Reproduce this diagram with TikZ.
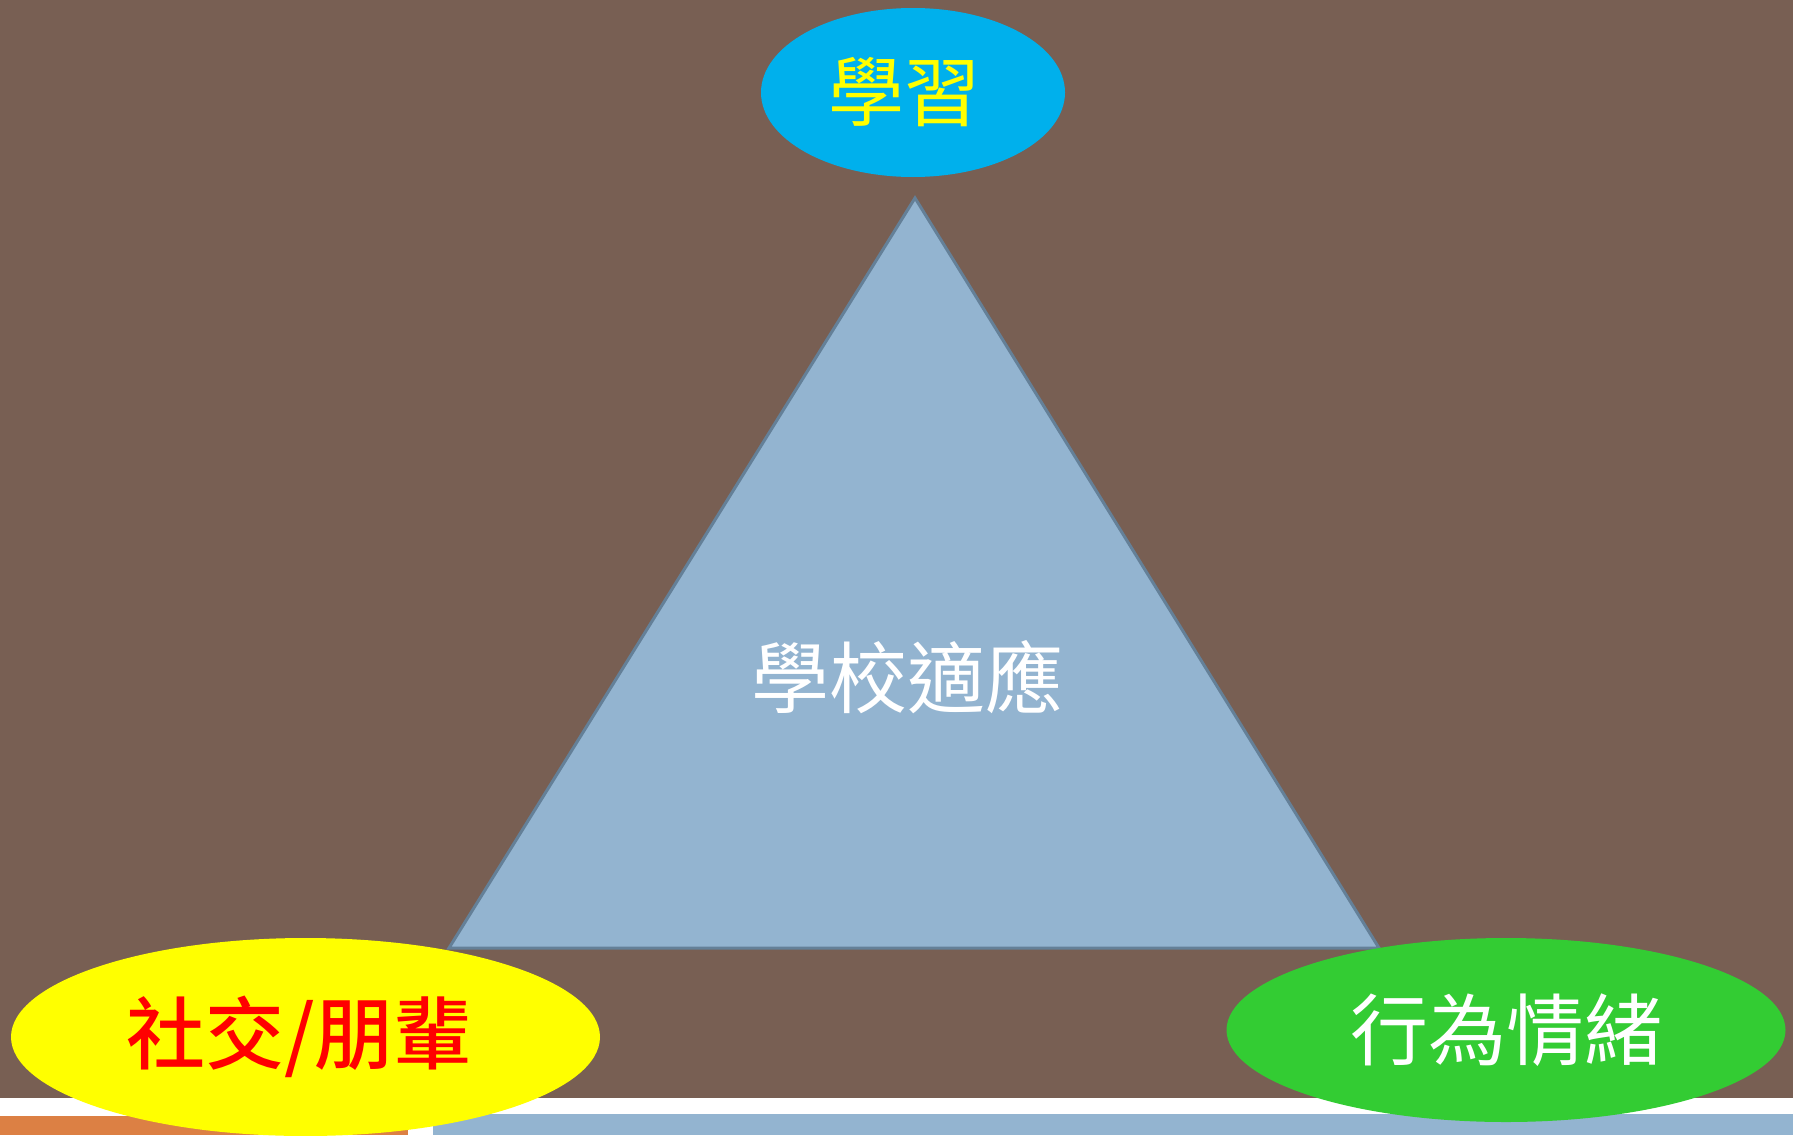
\documentclass[tikz,border=0pt]{standalone}
\usepackage{fontspec}
\newfontfamily\cjk{Noto Sans CJK TC}
\newfontfamily\cjkbold{Noto Sans CJK TC Medium}
\usetikzlibrary{shapes.geometric}
\definecolor{bgbrown}{RGB}{120,95,83}
\definecolor{skyblue}{RGB}{0,176,236}
\definecolor{trifill}{RGB}{147,180,208}
\definecolor{tridraw}{RGB}{100,128,152}
\definecolor{leafgreen}{RGB}{51,204,51}
\definecolor{pureyellow}{RGB}{255,255,0}
\definecolor{orangebar}{RGB}{220,128,68}
\tikzset{
  blob/.style={ellipse, inner sep=0pt, font=\cjk\fontsize{78}{80}\selectfont},
  label/.style={inner sep=0pt, font=\cjk\fontsize{78}{80}\selectfont}
}
\begin{document}
\begin{tikzpicture}[x=1pt,y=-1pt]
\useasboundingbox (0,0) rectangle (1793,1135);
% background
\fill[white] (0,0) rectangle (1793,1135);
\fill[bgbrown] (0,0) rectangle (1793,1098);
\fill[orangebar] (0,1116) rectangle (408,1135);
\fill[trifill] (433,1114) rectangle (1793,1135);
% triangle
\coordinate (apex) at (915,198);
\coordinate (bl) at (449,948);
\coordinate (br) at (1379,948);
\filldraw[fill=trifill, draw=tridraw, line width=3pt, line join=miter] (apex) -- (bl) -- (br) -- cycle;
\node[label, text=white] (center) at (907,677) {學校適應};
% ellipses
\node[blob, fill=skyblue, text=pureyellow, minimum width=304pt, minimum height=169pt,
      font=\cjk\fontsize{76}{78}\selectfont] (learn) at (913,92.5) {學習\kern18pt};
\node[blob, fill=pureyellow, text=red, minimum width=589pt, minimum height=198pt,
      font=\cjkbold\fontsize{79}{81}\selectfont] (social) at (305.5,1037) {社交/朋輩\kern12pt};
\node[blob, fill=leafgreen, text=white, minimum width=559pt, minimum height=184pt] (behav) at (1506,1030) {行為情緒};
\end{tikzpicture}
\end{document}
